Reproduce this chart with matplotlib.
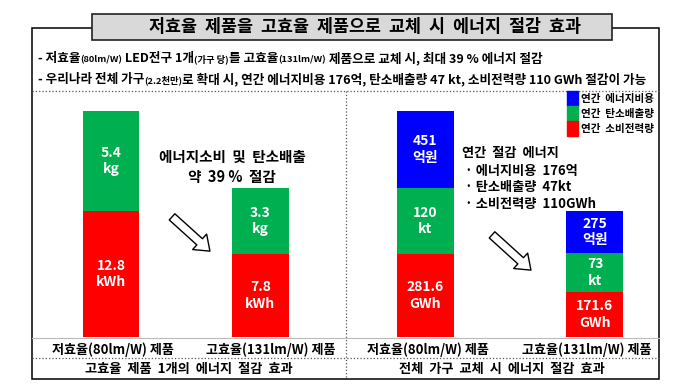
import matplotlib.pyplot as plt
from matplotlib.patches import Rectangle, Patch, FancyArrowPatch
from matplotlib.transforms import ScaledTranslation

plt.rcParams['font.family'] = ['Noto Sans CJK KR', 'DejaVu Sans']

# --- data ---------------------------------------------------------------
products = ['저효율(80lm/W) 제품', '고효율(131lm/W) 제품']

# one bulb (kWh, kg)
unit_power = [12.8, 7.8]
unit_carbon = [5.4, 3.3]
# drawn segment heights (the bars are not on a common scale)
unit_power_h = [126, 83]
unit_carbon_h = [100, 66]

# all households (GWh, kt, 억원)
all_power = [281.6, 171.6]
all_carbon = [120, 73]
all_cost = [451, 275]
all_power_h = [83, 45]
all_carbon_h = [66, 39]
all_cost_h = [77, 42]

series_names = ['연간  에너지비용', '연간  탄소배출량', '연간  소비전력량']

RED, GREEN, BLUE = '#ff0000', '#00b050', '#0000ff'
W, H = 676, 386
BOLD = dict(fontweight='bold')

fig = plt.figure(figsize=(W / 100, H / 100), dpi=100)

# background axes in pixel units for the frame and free text
bg = fig.add_axes([0, 0, 1, 1])
bg.set_xlim(0, W)
bg.set_ylim(H, 0)
bg.axis('off')


def px(x0, y0, x1, y1):
    return [x0 / W, 1 - y1 / H, (x1 - x0) / W, (y1 - y0) / H]


# frame and separators
bg.add_patch(Rectangle((32, 28), 627, 351, fill=False, ec='black', lw=1.1))
bg.plot([32, 659], [91, 91], ls=':', color='#555555', lw=0.9)
bg.plot([346, 346], [91, 379], ls=':', color='#555555', lw=0.9)
bg.plot([32, 659], [338, 338], color='#bbbbbb', lw=0.8)
bg.plot([32, 659], [358, 358], ls=':', color='#555555', lw=0.9)

# title box
bg.add_patch(Rectangle((92, 14), 520, 26, fc='#d9d9d9', ec='#222222', lw=1.2, zorder=3))
bg.text(365, 27.5, '저효율  제품을  고효율  제품으로  교체  시  에너지  절감  효과',
        ha='center', va='center', fontsize=12.5, zorder=4, **BOLD)


def rich_line(x, y, parts):
    t = bg.text(x, y, parts[0][0], fontsize=parts[0][1], va='baseline', **BOLD)
    for s, size in parts[1:]:
        t = bg.annotate(s, xy=(1, y), xycoords=(t, 'data'), fontsize=size,
                        va='baseline', ha='left', **BOLD)


big, small = 9.1, 6.7
rich_line(38, 62, [('- 저효율', big), ('(80lm/W)', small), (' LED전구 1개', big),
                   ('(가구 당)', small), ('를 고효율', big), ('(131lm/W)', small),
                   (' 제품으로 교체 시, 최대 39 % 에너지 절감', big)])
rich_line(38, 83, [('- 우리나라 전체 가구', big), ('(2.2천만)', small),
                   ('로 확대 시, 연간 에너지비용 176억, 탄소배출량 47 kt, 소비전력량 110 GWh 절감이 가능', big)])


def segment(ax, x, bottom, h, value, unit, color, width):
    ax.bar(x, h, width, bottom=bottom, color=color)
    ax.text(x, bottom + h / 2, f'{value}\n{unit}', ha='center', va='center',
            color='white', fontsize=10, linespacing=1.25, **BOLD)


def panel(rect, xlim, shifts):
    ax = fig.add_axes(rect)
    ax.set_xlim(*xlim)
    ax.set_ylim(0, 246)
    ax.patch.set_visible(False)
    for s in ax.spines.values():
        s.set_visible(False)
    ax.set_yticks([])
    ax.set_xticks(range(len(products)))
    ax.set_xticklabels(products, fontsize=9.4, **BOLD)
    ax.tick_params(axis='x', length=0, pad=4)
    # nudge labels sideways the way the original centres them
    for lab, dx in zip(ax.get_xticklabels(), shifts):
        lab.set_transform(lab.get_transform() + ScaledTranslation(dx / 100, 0, fig.dpi_scale_trans))
    return ax


# left panel: one bulb
axl = panel(px(32, 91, 346, 337), (-0.528, 1.572), (2, 10))
for i in range(len(products)):
    segment(axl, i, 0, unit_power_h[i], unit_power[i], 'kWh', RED, 0.375)
    segment(axl, i, unit_power_h[i], unit_carbon_h[i], unit_carbon[i], 'kg', GREEN, 0.375)

# right panel: all households
axr = panel(px(346, 91, 659, 337), (-0.469, 1.378), (2, -8))
for i in range(len(products)):
    segment(axr, i, 0, all_power_h[i], all_power[i], 'GWh', RED, 0.336)
    segment(axr, i, all_power_h[i], all_carbon_h[i], all_carbon[i], 'kt', GREEN, 0.336)
    segment(axr, i, all_power_h[i] + all_carbon_h[i], all_cost_h[i], all_cost[i], '억원',
            BLUE, 0.336)

handles = [Patch(color=c) for c in (BLUE, GREEN, RED)]
fig.legend(handles, series_names, loc='upper left', bbox_to_anchor=(567 / W, 1 - 91 / H),
           frameon=False, borderpad=0, borderaxespad=0, labelspacing=0,
           handlelength=1.0, handleheight=1.8, handletextpad=0.3,
           prop=dict(weight='bold', size=7.6))

# annotations and arrows
bg.text(232, 167, '에너지소비  및  탄소배출\n약  39 %  절감', ha='center', va='center',
        fontsize=10.5, linespacing=1.35, **BOLD)
bg.text(462, 153, '연간  절감  에너지', ha='left', va='center', fontsize=9.5, **BOLD)
for j, line in enumerate(['· 에너지비용  176억', '· 탄소배출량  47kt', '· 소비전력량  110GWh']):
    bg.text(465, 171 + 16.5 * j, line, ha='left', va='center', fontsize=9.5, **BOLD)

for (x0, y0), (x1, y1) in [((170, 215), (212, 253)), ((490, 233), (533, 272))]:
    bg.add_patch(FancyArrowPatch((x0, y0), (x1, y1), mutation_scale=1,
                                 arrowstyle='simple,head_length=10,head_width=15,tail_width=6',
                                 fc='white', ec='black', lw=1.0))

# footers
bg.text(189, 369, '고효율  제품  1개의  에너지  절감  효과', ha='center', va='center',
        fontsize=9.5, **BOLD)
bg.text(502, 369, '전체  가구  교체  시  에너지  절감  효과', ha='center', va='center',
        fontsize=9.5, **BOLD)

fig.savefig('out.png', dpi=100)
